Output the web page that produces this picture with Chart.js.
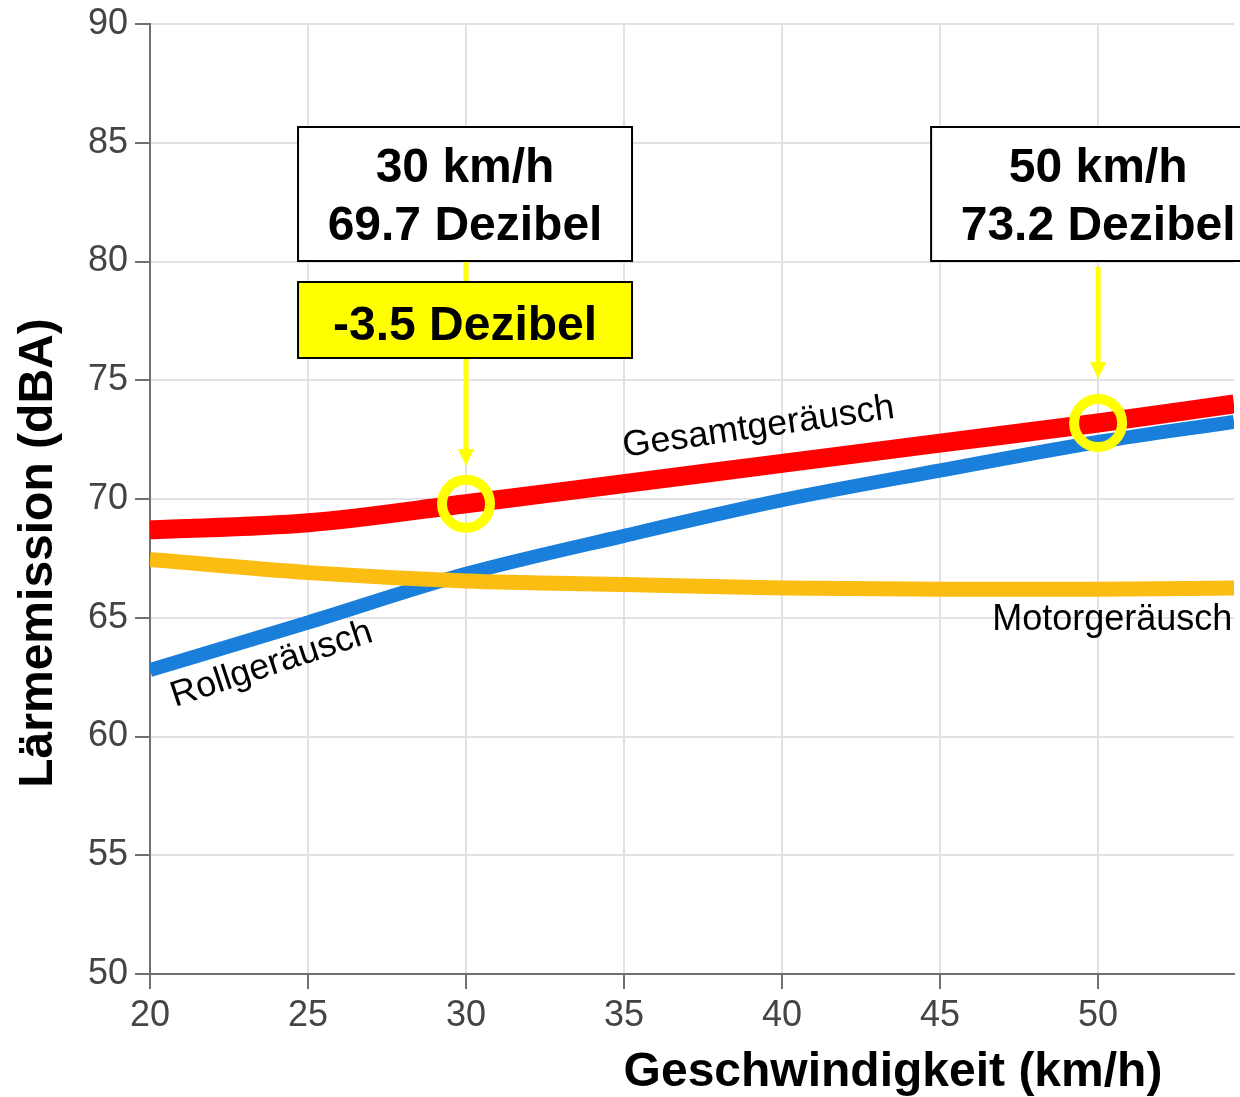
<!DOCTYPE html>
<html><head><meta charset="utf-8">
<script src="https://cdn.jsdelivr.net/npm/chart.js@4.4.0/dist/chart.umd.min.js"></script>
<style>html,body{margin:0;padding:0;background:#fff;overflow:hidden}#wrap{width:1240px;height:1097px}</style>
</head><body><div id="wrap"><canvas id="c" width="1240" height="1097"></canvas></div>
<script>
// ---- data ----
const speeds = [20, 25, 30, 35, 40, 45, 50, 54.3];
const gesamt = [68.7, 69.0, 69.8, 70.65, 71.5, 72.35, 73.2, 74.0];
const roll   = [62.8, 64.8, 66.85, 68.45, 69.95, 71.2, 72.4, 73.25];
const motor  = [67.45, 66.9, 66.55, 66.4, 66.25, 66.2, 66.2, 66.25];
const markerSpeeds = [30, 50];
const markerValues = [69.8, 73.2];
const calloutLines = [['30 km/h', '69.7 Dezibel'], ['50 km/h', '73.2 Dezibel']];
const diffText = '-3.5 Dezibel';
const seriesNames = ['Gesamtgeräusch', 'Rollgeräusch', 'Motorgeräusch'];
const xTitle = 'Geschwindigkeit (km/h)';
const yTitle = 'Lärmemission (dBA)';
// label anchors (data coords) and angles
const labelAnchors = [{x: 39.3, y: 72.6, a: -8.2}, {x: 23.95, y: 62.63, a: -18.3}, {x: 50.45, y: 64.48, a: 0}];

const toPts = arr => speeds.map((s, i) => ({x: s, y: arr[i]}));

const annot = {
  id: 'annot',
  afterDraw(chart) {
    const ctx = chart.ctx, xs = chart.scales.x, ys = chart.scales.y;
    ctx.save();
    // axis titles
    ctx.fillStyle = '#000';
    ctx.font = 'bold 48px "Liberation Sans", Arial, sans-serif';
    ctx.textAlign = 'center';
    ctx.textBaseline = 'alphabetic';
    ctx.fillText(xTitle, 893, 1086);
    ctx.save();
    ctx.translate(52, 553);
    ctx.rotate(-Math.PI / 2);
    ctx.fillText(yTitle, 0, 0);
    ctx.restore();
    // curve labels
    ctx.font = '36px "Liberation Sans", Arial, sans-serif';
    labelAnchors.forEach((l, i) => {
      ctx.save();
      ctx.translate(xs.getPixelForValue(l.x), ys.getPixelForValue(l.y));
      ctx.rotate(l.a * Math.PI / 180);
      ctx.fillText(seriesNames[i], 0, 0);
      ctx.restore();
    });
    // arrows
    const arrow = (x, y0, y1) => {
      ctx.strokeStyle = '#ffff00'; ctx.fillStyle = '#ffff00'; ctx.lineWidth = 5;
      ctx.beginPath(); ctx.moveTo(x, y0); ctx.lineTo(x, y1 - 14); ctx.stroke();
      ctx.beginPath(); ctx.moveTo(x - 8, y1 - 17); ctx.lineTo(x + 8, y1 - 17); ctx.lineTo(x, y1); ctx.closePath(); ctx.fill();
    };
    const p30 = xs.getPixelForValue(markerSpeeds[0]);
    const p50 = xs.getPixelForValue(markerSpeeds[1]);
    arrow(p30, 262, 466);
    arrow(p50, 267, 379);
    // boxes
    const box = (cx, top, bottom, fill, lines, baselines) => {
      ctx.fillStyle = fill;
      ctx.fillRect(cx - 167, top, 334, bottom - top);
      ctx.strokeStyle = '#000'; ctx.lineWidth = 2;
      ctx.strokeRect(cx - 167, top, 334, bottom - top);
      ctx.fillStyle = '#000';
      ctx.font = 'bold 48px "Liberation Sans", Arial, sans-serif';
      ctx.textAlign = 'center'; ctx.textBaseline = 'alphabetic';
      lines.forEach((t, i) => ctx.fillText(t, cx, baselines[i]));
    };
    box(p30 - 1, 127, 261, '#ffffff', calloutLines[0], [182, 240]);
    box(p50, 127, 261, '#ffffff', calloutLines[1], [182, 240]);
    box(p30 - 1, 282, 358, '#ffff00', [diffText], [340]);
    ctx.restore();
  }
};

new Chart(document.getElementById('c'), {
  type: 'line',
  data: {
    datasets: [
      {label: 'Marker', type: 'scatter', data: markerSpeeds.map((s, i) => ({x: s, y: markerValues[i]})),
       pointRadius: 24, pointBorderWidth: 10, pointBorderColor: '#ffff00', pointBackgroundColor: 'rgba(0,0,0,0)',
       showLine: false, order: 0},
      {label: seriesNames[0], data: toPts(gesamt), borderColor: '#ff0000', borderWidth: 19, pointRadius: 0,
       cubicInterpolationMode: 'monotone', order: 1},
      {label: seriesNames[2], data: toPts(motor), borderColor: '#fbbd12', borderWidth: 15, pointRadius: 0,
       cubicInterpolationMode: 'monotone', order: 2},
      {label: seriesNames[1], data: toPts(roll), borderColor: '#1a7fda', borderWidth: 14, pointRadius: 0,
       cubicInterpolationMode: 'monotone', order: 3}
    ]
  },
  options: {
    responsive: false, animation: false, devicePixelRatio: 1,
    layout: {autoPadding: false, padding: {left: 0, top: 24, right: 6, bottom: 0}},
    plugins: {legend: {display: false}, tooltip: {enabled: false}},
    scales: {
      x: {type: 'linear', min: 20, max: 54.3,
          afterFit(s) { s.height = 123; s.paddingLeft = 0; s.paddingRight = 0; },
          ticks: {stepSize: 5, includeBounds: false, color: '#444', padding: 5,
                  font: {family: '"Liberation Sans", Arial, sans-serif', size: 36}},
          grid: {color: '#e2e2e2', lineWidth: 2, tickLength: 15, tickColor: '#707070', tickWidth: 2},
          border: {color: '#707070', width: 2}},
      y: {type: 'linear', min: 50, max: 90,
          afterFit(s) { s.width = 150; s.paddingTop = 0; s.paddingBottom = 0; },
          ticks: {stepSize: 5, color: '#444', padding: 7,
                  font: {family: '"Liberation Sans", Arial, sans-serif', size: 36}},
          grid: {color: '#e2e2e2', lineWidth: 2, tickLength: 15, tickColor: '#707070', tickWidth: 2},
          border: {color: '#707070', width: 2}}
    }
  },
  plugins: [annot]
});
</script></body></html>
